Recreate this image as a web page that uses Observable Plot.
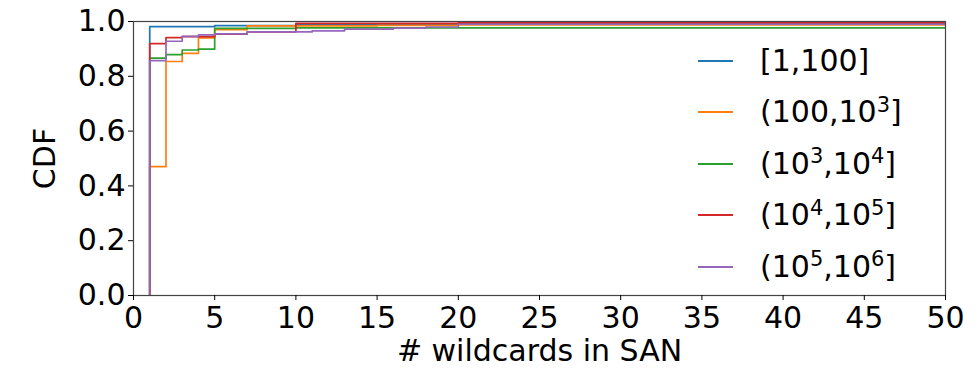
<!DOCTYPE html>
<html>
<head>
<meta charset="utf-8">
<script src="https://cdn.jsdelivr.net/npm/d3@7"></script>
<script src="https://cdn.jsdelivr.net/npm/@observablehq/plot@0.6"></script>
<style>
  body { margin: 0; background: #fff; }
  #wrap { position: relative; width: 978px; height: 369px; font-family: "DejaVu Sans", sans-serif; }
  #legend { position: absolute; left: 698px; top: 0; }
  .row { position: absolute; left: 0; display: flex; align-items: center; white-space: nowrap; }
  .sw { width: 35px; height: 0; border-top: 2px solid; margin-right: 27px; }
  .lbl { font-size: 30px; color: #000; line-height: 1; }
  .lbl sup { font-size: 0.7em; vertical-align: baseline; position: relative; top: -0.5em; }
</style>
</head>
<body>
<div id="wrap"></div>
<script>
// Series labels (HTML for superscripts) and colours
const seriesNames = ["[1,100]", "(100,10^3]", "(10^3,10^4]", "(10^4,10^5]", "(10^5,10^6]"];
const seriesLabelsHtml = ["[1,100]", "(100,10<sup>3</sup>]", "(10<sup>3</sup>,10<sup>4</sup>]", "(10<sup>4</sup>,10<sup>5</sup>]", "(10<sup>5</sup>,10<sup>6</sup>]"];
const seriesColors = ["#1f77b4", "#ff7f0e", "#2ca02c", "#d62728", "#9467bd"];

// Step CDF values (x = # wildcards, y = CDF)
const x1 = [1, 1, 5, 10, 20, 50];
const y1 = [0, 0.981, 0.985, 0.99, 0.994, 0.994];

const x2 = [1, 1, 2, 3, 4, 5, 7, 15, 20, 50];
const y2 = [0, 0.47, 0.854, 0.884, 0.94, 0.97, 0.984, 0.986, 0.988, 0.988];

const x3 = [1, 1, 2, 3, 4, 5, 10, 50];
const y3 = [0, 0.866, 0.879, 0.896, 0.899, 0.975, 0.977, 0.977];

const x4 = [1, 1, 2, 3, 5, 7, 10, 20, 50];
const y4 = [0, 0.919, 0.941, 0.945, 0.954, 0.962, 0.993, 0.995, 0.995];

const x5 = [1, 1, 2, 3, 4, 5, 7, 11, 13, 16, 18, 20, 50];
const y5 = [0, 0.857, 0.928, 0.946, 0.951, 0.955, 0.962, 0.966, 0.972, 0.976, 0.98, 0.99, 0.995];

const xTicks = [0, 5, 10, 15, 20, 25, 30, 35, 40, 45, 50];
const yTicks = [0, 0.2, 0.4, 0.6, 0.8, 1.0];

const allX = [x1, x2, x3, x4, x5];
const allY = [y1, y2, y3, y4, y5];
const rows = [];
allX.forEach((xs, s) => xs.forEach((x, i) => rows.push({series: seriesNames[s], x, y: allY[s][i]})));

const chart = Plot.plot({
  width: 978,
  height: 369,
  marginLeft: 133,
  marginRight: 33,
  marginTop: 21,
  marginBottom: 74,
  style: {fontFamily: "DejaVu Sans, sans-serif", fontSize: "30px", color: "#000", background: "#fff"},
  x: {domain: [0, 50]},
  y: {domain: [0, 1]},
  color: {domain: seriesNames, range: seriesColors},
  marks: [
    Plot.line(rows, {x: "x", y: "y", z: "series", stroke: "series", strokeWidth: 1.7, curve: "step-after", clip: true}),
    Plot.frame({stroke: "#444", strokeWidth: 1.2}),
    Plot.axisX({ticks: xTicks, tickSize: 5, tickPadding: 6, tickFormat: d => String(d), fontSize: 30,
      label: "# wildcards in SAN", labelAnchor: "center", labelArrow: "none", labelOffset: 65}),
    Plot.axisY({ticks: yTicks, tickSize: 5, tickPadding: 3, tickFormat: d3.format(".1f"), fontSize: 30,
      label: "CDF", labelAnchor: "center", labelArrow: "none", labelOffset: 100})
  ]
});

const wrap = document.getElementById("wrap");
wrap.appendChild(chart);

const legend = document.createElement("div");
legend.id = "legend";
seriesNames.forEach((name, i) => {
  const row = document.createElement("div");
  row.className = "row";
  row.style.top = (60.7 + i * 51.5 - 16) + "px";
  row.style.height = "32px";
  const sw = document.createElement("div");
  sw.className = "sw";
  sw.style.borderTopColor = seriesColors[i];
  const lbl = document.createElement("span");
  lbl.className = "lbl";
  lbl.innerHTML = seriesLabelsHtml[i];
  row.appendChild(sw);
  row.appendChild(lbl);
  legend.appendChild(row);
});
wrap.appendChild(legend);
</script>
</body>
</html>
